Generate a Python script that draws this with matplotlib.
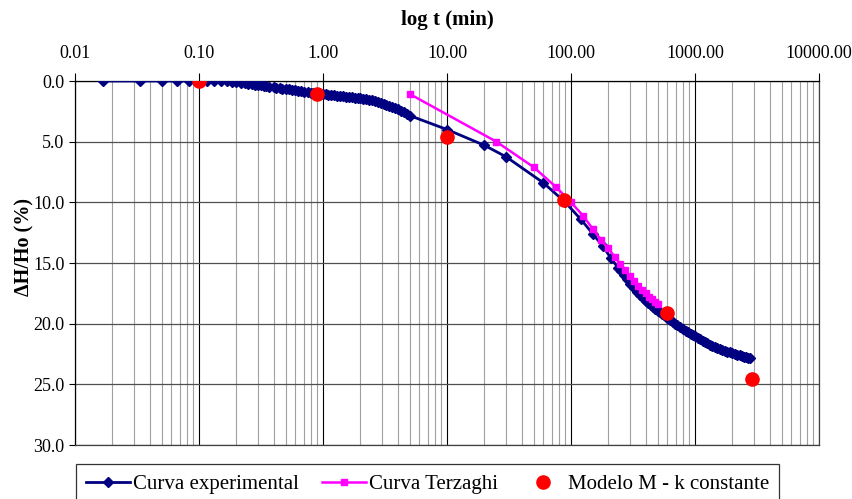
import matplotlib
matplotlib.use("Agg")
import matplotlib.pyplot as plt
import numpy as np
from matplotlib.ticker import LogLocator, FixedLocator, NullFormatter

plt.rcParams['font.family'] = ['Liberation Serif', 'DejaVu Serif']

# curva experimental, primeros 5 minutos (tiempo en segundos)
exp_seg = [1, 2, 3, 4, 5, 6, 7, 8, 9, 10, 11,
           12, 13, 14, 15, 16, 17, 18, 19, 20, 21, 22, 24, 25, 27, 28, 30, 32, 34,
           36, 38, 40, 42, 45, 48, 50, 53, 56, 60, 63, 66, 70, 74, 78, 82, 87, 92,
           97, 102, 108, 114, 120, 127, 134, 141, 149, 157, 166, 175, 185, 195,
           206, 217, 229, 241, 254, 268, 283, 300]
exp_seg_val = [0.0, 0.0, 0.0, 0.0, 0.0, 0.0, 0.0, 0.0, 0.0, 0.02, 0.05,
               0.10, 0.14, 0.18, 0.22, 0.25, 0.29, 0.32, 0.36, 0.40, 0.43, 0.46,
               0.52, 0.55, 0.60, 0.62, 0.67, 0.70, 0.74, 0.78, 0.81, 0.85, 0.87,
               0.92, 0.96, 0.99, 1.02, 1.05, 1.08, 1.11, 1.13, 1.16, 1.18, 1.21,
               1.23, 1.26, 1.29, 1.31, 1.34, 1.37, 1.39, 1.42, 1.46, 1.50, 1.54,
               1.60, 1.65, 1.71, 1.78, 1.86, 1.94, 2.03, 2.12, 2.22, 2.33, 2.44,
               2.57, 2.71, 2.85]

# curva experimental, resto del ensayo (tiempo en minutos)
exp_min = [10, 20, 30, 60, 90, 120, 150, 180, 210, 240, 255, 270, 285, 300, 320,
           340, 360, 380, 400, 420, 440, 460, 480, 500, 520, 540, 560, 580, 600,
           630, 660, 690, 720, 760, 800, 840, 880, 920, 960, 1000, 1050, 1100,
           1150, 1200, 1260, 1320, 1380, 1440, 1500, 1580, 1660, 1740, 1820,
           1900, 2000, 2100, 2200, 2300, 2400, 2500, 2600, 2700, 2800]
exp_min_val = [4.0, 5.3, 6.25, 8.4, 10.0, 11.4, 12.6, 13.6, 14.6, 15.4, 15.7,
               16.0, 16.35, 16.7, 17.05, 17.4, 17.65, 17.9, 18.1, 18.3, 18.5,
               18.65, 18.8, 18.95, 19.05, 19.2, 19.3, 19.4, 19.5, 19.7, 19.85,
               20.0, 20.15, 20.3, 20.45, 20.6, 20.72, 20.85, 20.95, 21.05, 21.18,
               21.3, 21.4, 21.5, 21.62, 21.72, 21.82, 21.9, 21.98, 22.07, 22.15,
               22.22, 22.3, 22.36, 22.43, 22.5, 22.56, 22.62, 22.67, 22.72,
               22.76, 22.8, 22.83]

# curva Terzaghi
terz_t = [5, 25, 50, 75, 100, 125, 150, 175, 200, 225, 250, 275, 300, 325, 350,
          375, 400, 425, 450, 475, 500]
terz_val = [1.07, 5.0, 7.1, 8.7, 10.0, 11.1, 12.2, 13.1, 13.8, 14.5, 15.1, 15.6,
            16.1, 16.5, 16.9, 17.2, 17.5, 17.8, 18.0, 18.2, 18.4]

# modelo M - k constante
mod_t = [0.1, 0.9, 10, 88, 600, 2900]
mod_val = [0.0, 1.1, 4.65, 9.8, 19.1, 24.6]

exp_t = [s / 60 for s in exp_seg] + exp_min
exp_val = exp_seg_val + exp_min_val

fig = plt.figure(figsize=(8.52, 4.99), dpi=100)
ax = fig.add_axes([75 / 852, 1 - 445 / 499, (819 - 75) / 852, (445 - 81) / 499])

ax.plot(exp_t, exp_val, color='#000080', lw=2, marker='D', ms=5,
        label='Curva experimental', zorder=3)
ax.plot(terz_t, terz_val, color='#FF00FF', lw=1.8, marker='s', ms=5,
        label='Curva Terzaghi', zorder=4)
ax.plot(mod_t, mod_val, ls='none', color='#FF0000', marker='o', ms=9.5,
        label='Modelo M - k constante', zorder=5)

ax.set_xscale('log')
ax.set_xlim(0.01, 10000)
ax.set_ylim(30, 0)
ax.xaxis.tick_top()
ax.xaxis.set_label_position('top')
ax.xaxis.set_major_locator(FixedLocator([0.01, 0.1, 1, 10, 100, 1000, 10000]))
ax.set_xticklabels(['0.01', '0.10', '1.00', '10.00', '100.00', '1000.00', '10000.00'])
ax.xaxis.set_minor_locator(LogLocator(base=10, subs=np.arange(2, 10), numticks=100))
ax.xaxis.set_minor_formatter(NullFormatter())
ax.set_yticks(np.arange(0, 31, 5))
ax.set_yticklabels([f'{v:.1f}' for v in np.arange(0, 31, 5)])

ax.grid(which='major', axis='x', color='black', lw=0.8)
ax.grid(which='minor', axis='x', color='#a0a0a0', lw=0.8)
ax.grid(which='major', axis='y', color='#505050', lw=0.9)
ax.set_axisbelow(True)
ax.tick_params(axis='x', which='minor', length=0)
ax.tick_params(axis='x', which='major', length=6, labelsize=13, pad=8)
ax.tick_params(axis='y', length=4, labelsize=13)
for sp in ax.spines.values():
    sp.set_color('#404040')
    sp.set_linewidth(0.9)
ax.spines['left'].set_color('black')
ax.spines['top'].set_color('black')

ax.set_xlabel('log t (min)', fontsize=15, fontweight='bold', labelpad=14)
ax.set_ylabel('ΔH/Ho (%)', fontsize=14.5, fontweight='bold')
ax.yaxis.set_label_coords(-0.055, 0.545)

leg = fig.legend(loc='upper left', bbox_to_anchor=(76 / 852, 1 - 464 / 499), ncol=3,
                 fontsize=15, frameon=True, fancybox=False, edgecolor='black',
                 borderpad=0.5, borderaxespad=0, handlelength=2.1,
                 columnspacing=1.1, handletextpad=0.15)
leg.get_frame().set_linewidth(0.9)

fig.savefig('out.png', dpi=100)
